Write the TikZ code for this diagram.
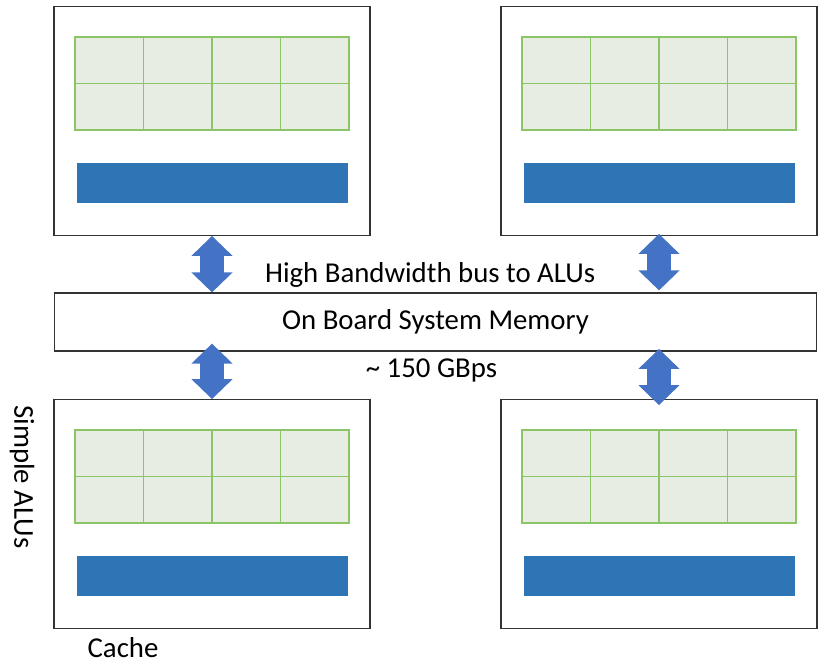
\documentclass[tikz,border=0pt]{standalone}
\usepackage{fontspec}
\setmainfont{Carlito}
\usetikzlibrary{positioning, arrows.meta, calc}
\definecolor{busblue}{RGB}{68,114,196}
\definecolor{cacheblue}{RGB}{46,117,182}
\definecolor{alugreen}{RGB}{140,196,104}
\definecolor{alufill}{RGB}{232,237,228}

\begin{document}
\begin{tikzpicture}[x=0.75pt,y=-0.75pt,
  every node/.style={font=\fontsize{21.6}{25}\selectfont},
  chip/.style={draw=black!80,line width=0.9pt,minimum width=237pt,minimum height=171.5pt,inner sep=0pt},
  alugrid/.style={draw=alugreen,fill=alufill,line width=0.8pt},
  cachebar/.style={fill=cacheblue,minimum width=203.25pt,minimum height=30pt,inner sep=0pt},
  bus/.style={draw=busblue,line width=18pt,{Triangle[width=30pt,length=15pt]}-{Triangle[width=30pt,length=15pt]}}]
\useasboundingbox (0,0) rectangle (818,665);

% four processing blocks
\foreach \n/\x/\y in {tl/212/121, tr/659/121, bl/212/514, br/659/514}{
  \node[chip] (\n) at (\x,\y) {};
  \begin{scope}[shift={(\x,\y)}]
    \draw[alugrid] (-137,-84) rectangle (137,9);
    \foreach \i in {-68.5,0,68.5} \draw[alugreen,line width=0.8pt] (\i,-84) -- (\i,9);
    \draw[alugreen,line width=0.8pt] (-137,-37.5) -- (137,-37.5);
  \end{scope}
  \node[cachebar] (\n-cache) at (\x,\y+62) {};
}

% memory
\node[draw=black!80,line width=0.9pt,minimum width=572pt,minimum height=43.5pt] (mem) at (435.5,322) {On Board System Memory};
\node[above=0pt of mem,xshift=-4pt] (hbw) {High Bandwidth bus to ALUs};
\node[below=2pt of mem,xshift=-3pt] (rate) {\textasciitilde{} 150 GBps};

% buses
\draw[bus] (tl.south) -- (tl.south |- mem.north);
\draw[bus] ([yshift=1.5pt]tr.south) -- ([yshift=1.5pt]tr.south |- mem.north);
\draw[bus,shorten <=-6pt] (bl.north |- mem.south) -- (bl.north);
\draw[bus,shorten <=-2pt,shorten >=-4.5pt] (br.north |- mem.south) -- (br.north);

% labels
\node[rotate=-90] (alus) at (22,477) {Simple ALUs};
\node[inner sep=1pt] (cachelbl) at (123,648) {Cache};
\end{tikzpicture}
\end{document}
